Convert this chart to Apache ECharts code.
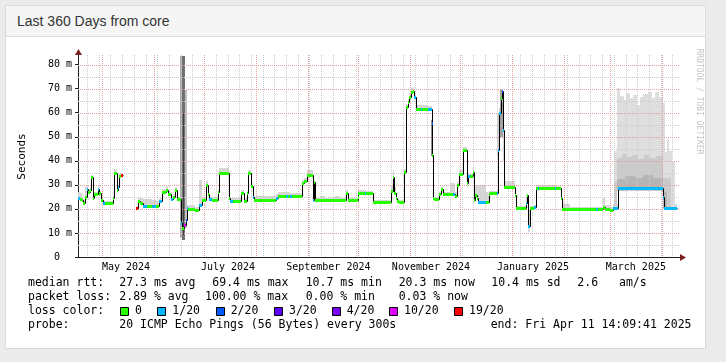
<!DOCTYPE html>
<html><head><meta charset="utf-8">
<script src="https://cdn.jsdelivr.net/npm/echarts@6/dist/echarts.min.js"></script>
<style>
html,body{margin:0;padding:0;background:#ebebeb;width:726px;height:362px;overflow:hidden;}
#panel{position:absolute;left:5px;top:5px;width:699px;height:342px;background:#fff;border:1px solid #dcdcdc;}
#head{position:absolute;left:0;top:0;right:0;height:30px;background:#f5f5f5;border-bottom:1px solid #dcdcdc;}
#title{position:absolute;left:11px;top:7px;font:14px "Liberation Sans",Arial,sans-serif;color:#333;}
#chart{position:absolute;left:0;top:0;width:726px;height:362px;}
</style></head>
<body>
<div id="panel"><div id="head"><div id="title">Last 360 Days from core</div></div></div>
<div id="chart"></div>
<script>
// ---- data (x = days since start of the 360-day window, y = milliseconds) ----
const endDay = 358.3;
const segDays = [0.0,1.0,2.2,3.2,4.2,5.2,6.2,7.2,7.8,8.8,9.8,11.8,12.6,13.8,15.1,16.2,20.7,21.7,23.1,23.7,24.5,25.7,26.7,
 34.7,35.8,37.2,39.1,41.0,44.0,46.5,48.6,50.0,52.6,54.0,55.6,57.0,58.0,59.4,61.6,62.4,63.4,64.4,65.2,66.0,70.0,72.4,74.0,
 76.4,77.6,78.5,80.0,83.6,84.3,90.3,90.9,92.5,97.5,99.5,100.9,101.5,103.5,104.8,105.4,118.2,119.4,124.6,125.4,127.0,127.8,
 134.2,135.4,136.8,140.7,141.3,141.7,144.7,147.7,153.7,156.7,160.1,161.3,167.3,167.6,171.5,172.3,176.2,187.0,188.2,189.0,
 190.0,191.0,192.0,195.2,196.2,197.2,198.1,199.2,200.2,201.1,202.2,205.3,206.0,209.6,211.5,211.9,212.5,213.1,216.1,217.1,
 218.1,222.5,224.5,225.5,226.9,227.9,230.4,232.5,233.4,234.5,236.1,236.8,237.4,238.4,239.4,244.0,245.8,246.4,250.4,251.0,
 251.8,252.8,253.4,254.4,255.0,261.4,262.2,267.8,268.5,269.2,270.4,272.8,273.9,275.0,275.8,285.0,285.8,288.9,289.7,294.0,
 310.0,310.8,314.2,315.2,318.2,320.2,322.8,349.7,350.3];
const segMedian = [24.6,24.2,23.7,22.5,25.0,28.3,27.0,28.0,33.3,24.6,26.0,28.3,26.6,23.7,22.5,22.5,24.6,35.0,28.0,29.0,33.7,34.0,null,
 20.4,23.3,22.5,21.4,21.4,21.4,21.4,23.3,27.0,28.0,26.0,24.0,25.0,28.0,24.0,14.0,12.0,13.3,15.4,20.4,20.0,19.4,21.6,23.7,
 30.0,26.0,24.0,23.7,27.0,35.0,24.6,23.3,23.3,26.6,23.3,26.6,35.0,29.6,25.0,23.5,24.6,25.4,25.4,25.4,25.4,25.4,
 30.8,31.7,34.0,23.5,31.0,23.5,23.5,23.5,23.5,23.5,26.6,23.5,25.0,26.6,26.6,26.6,23.0,27.5,33.3,26.6,
 24.6,23.3,23.0,35.4,62.5,64.6,66.7,68.8,69.2,66.7,61.7,61.7,61.7,61.7,55.8,42.5,24.6,24.2,26.2,28.3,
 26.2,26.2,26.2,25.4,30.0,34.6,44.6,30.8,33.7,33.7,35.4,23.7,25.8,24.5,23.0,23.0,26.2,26.6,26.6,44.6,
 60.0,66.2,69.0,52.9,29.2,25.8,20.4,22.6,25.8,13.0,20.4,20.8,28.8,28.8,28.8,28.8,28.8,24.6,20.0,20.0,
 20.0,20.0,20.8,20.0,19.6,20.4,28.8,25.0,20.4];
// loss bucket index: 0 = 0, 1 = 1/20, 2 = 2/20, 3 = 3/20, 4 = 4/20, 5 = 10/20, 6 = 19/20
const segLoss = [1,0,0,0,0,1,0,0,0,0,0,1,0,0,1,0,0,0,0,1,0,6,0,
 6,0,0,1,0,1,0,1,0,0,0,1,0,0,0,1,0,5,2,1,0,0,1,0,
 0,0,1,0,0,0,0,1,0,0,0,0,0,0,1,0,1,0,1,0,1,0,
 0,0,0,1,0,0,0,0,0,0,0,0,0,0,1,0,0,0,0,0,
 0,0,0,0,0,0,0,0,0,1,0,1,0,1,2,0,0,0,0,0,
 0,0,1,0,0,0,0,0,1,0,0,0,0,0,1,0,0,0,1,1,
 1,0,2,1,0,0,0,1,0,1,0,1,0,1,0,1,0,0,0,0,
 1,0,0,0,0,1,1,1,1];
const smokeLo = [23.6,23.4,23.0,22.0,24.5,27.6,26.4,27.4,32.6,24.0,25.4,27.6,26.0,23.0,22.0,22.0,24.0,34.4,27.4,28.4,33.0,33.4,null,
 20.0,22.6,22.0,21.0,21.0,21.0,21.0,22.8,26.4,27.4,25.4,23.4,24.4,27.4,23.4,13.0,11.0,12.0,14.5,19.8,19.5,19.0,21.0,23.0,
 29.4,25.4,23.4,23.2,26.4,34.4,24.0,22.8,22.8,26.0,22.8,26.0,34.4,29.0,24.4,23.0,24.0,25.0,25.0,25.0,25.0,25.0,
 30.2,31.0,33.4,23.0,23.5,23.0,23.0,23.0,23.0,23.0,26.0,23.0,24.5,26.0,26.0,26.0,22.5,27.0,32.8,26.0,
 24.0,22.8,22.5,34.8,62.0,64.0,66.0,68.2,68.6,66.0,61.2,61.2,61.2,61.2,42.0,41.8,24.0,23.8,25.8,27.8,
 25.8,25.8,25.8,25.0,29.4,34.0,44.0,30.2,33.2,33.2,34.8,23.2,25.2,24.0,22.5,22.5,25.8,26.0,26.0,40.0,
 55.0,60.0,62.0,40.0,28.8,25.2,20.0,22.0,22.0,10.6,20.0,20.2,28.3,28.3,28.3,28.3,28.3,24.0,19.5,19.5,
 19.5,19.5,20.2,19.5,19.0,19.8,27.5,20.0,19.8];
const smokeHi = [27.0,26.5,25.0,24.0,29.3,29.5,28.2,29.0,34.2,25.6,27.0,29.6,27.6,24.8,23.4,23.4,25.6,36.4,29.0,30.0,34.6,35.0,null,
 21.2,24.6,24.6,24.0,24.0,23.8,23.4,24.6,28.4,29.4,27.2,25.4,26.2,29.2,25.0,16.0,14.0,15.0,17.0,21.5,21.5,21.0,32.0,25.0,
 31.5,27.0,25.0,25.0,28.0,37.0,25.6,24.4,24.4,28.0,24.4,27.6,36.0,30.6,26.4,25.5,26.0,27.0,27.0,27.0,26.6,26.6,
 32.0,33.0,36.0,24.6,31.5,24.6,25.5,24.4,25.5,24.4,28.0,24.4,26.0,28.0,28.0,27.6,23.8,30.0,36.0,29.0,
 26.0,24.2,23.8,36.4,63.5,65.6,68.0,70.4,70.6,68.0,63.4,63.4,63.4,62.6,57.0,43.5,25.5,25.0,27.0,29.0,
 27.2,30.8,30.8,27.0,31.0,36.0,45.6,31.6,34.6,34.6,36.2,26.0,30.0,30.0,30.0,27.0,27.4,27.6,28.0,55.0,
 62.0,68.0,70.0,55.0,31.5,27.0,21.4,26.0,26.4,20.0,21.4,21.6,30.0,30.0,30.0,29.6,29.6,25.4,22.0,21.0,
 21.0,21.0,24.6,21.6,21.0,22.0,30.0,30.0,22.0];
// extra smoke layers (darker percentiles) : start day, end day, low ms, high ms, grey level
const layerStart = [61.0,62.4,62.8,64.0,211.3,250.8,252.4,
 320.8,322.4,324.0,326.5,328.0,330.0,332.0,334.0,336.0,338.0,341.0,343.0,345.0,347.2,
 320.8,322.4,325.5,328.5,331.5,335.0,338.5,342.0,345.5,
 322.4,327.0,333.0,338.0,344.0,
 349.6,350.9,352.4,353.2,355.0,349.6,349.6];
const layerEnd = [62.4,64.0,63.6,65.4,212.2,252.0,254.2,
 322.4,324.0,326.5,328.0,330.0,332.0,334.0,336.0,338.0,341.0,343.0,345.0,347.2,349.6,
 322.4,325.5,328.5,331.5,335.0,338.5,342.0,345.5,349.6,
 327.0,333.0,338.0,344.0,349.6,
 350.9,352.4,353.2,355.0,356.8,354.5,352.0];
const layerLo = [8.0,7.0,9.0,12.0,42.0,42.0,50.0,
 19.8,27.5,27.5,27.5,27.5,27.5,27.5,27.5,27.5,27.5,27.5,27.5,27.5,27.5,
 20.5,27.6,27.6,27.6,27.6,27.6,27.6,27.6,27.6,
 27.8,27.8,27.8,27.8,27.8,
 20.0,20.0,20.0,20.0,20.0,20.0,20.0];
const layerHi = [83.5,83.5,60.0,69.5,57.0,60.0,69.5,
 43.9,70.3,67.0,65.4,68.2,66.0,67.5,63.3,66.5,67.8,68.5,66.0,68.8,66.5,
 31.0,41.0,42.8,41.5,42.5,40.8,42.6,41.2,42.0,
 32.5,33.6,32.8,34.0,33.0,
 64.0,43.5,49.0,44.0,39.5,33.0,27.0];
const layerGrey = [168,112,64,192,144,207,160,
 222,222,222,222,222,222,222,222,222,222,222,222,222,222,
 203,203,203,203,203,203,203,203,203,
 181,181,181,181,181,
 222,222,222,222,222,203,181];

const lossColors = ['#26ff00','#00b8ff','#0059ff','#5e00ff','#7e00ff','#dd00ff','#ff0000'];
const lossLabels = ['0','1/20','2/20','3/20','4/20','10/20','19/20'];

// calendar grid: month starts (days since Apr 16 2024 14:09:41)
const monthStartDays = [14.41,45.41,75.41,106.41,137.41,167.41,198.41,228.41,259.41,290.41,318.41,349.41];
const firstMondayDay = 5.41;
const xLabelDays = [28.7,89.7,149.7,211.1,272.1,333.6];
const xLabelText = ['May 2024','July 2024','September 2024','November 2024','January 2025','March 2025'];
const yLabelValues = [0,10,20,30,40,50,60,70,80];
const yMinorValues = [5,15,25,35,45,55,65,75];

const legendRows = [
  [['median rtt:',28],['27.3 ms avg',119.3],['69.4 ms max',212.3],['10.7 ms min',305.7],['20.3 ms now',398.7],['10.4 ms sd',491.3],['2.6',577.3],['am/s',619]],
  [['packet loss:',28],['2.89 % avg',119.3],['100.00 % max',205],['0.00 % min',305.7],['0.03 % now',398.7]],
  [['loss color:',28]],
  [['probe:',28],['20 ICMP Echo Pings (56 Bytes) every 300s',119.3],['end: Fri Apr 11 14:09:41 2025',490.7]]
];

// ---- build series data ----
const smokeData = [], medData = [], stepData = [];
for (let i = 0; i < segDays.length; i++) {
  const next = i + 1 < segDays.length ? segDays[i + 1] : endDay;
  if (segMedian[i] == null) continue;
  const nv = (i + 1 < segDays.length && segMedian[i + 1] != null) ? segMedian[i + 1] : segMedian[i];
  smokeData.push([segDays[i], next, smokeLo[i], smokeHi[i]]);
  medData.push([segDays[i], next, segMedian[i], segLoss[i]]);
  stepData.push([segDays[i], next, segMedian[i], nv]);
}
const layerData = layerStart.map((s, i) => [s, layerEnd[i], layerLo[i], layerHi[i], layerGrey[i]]);

const weekDays = [];
for (let d = firstMondayDay; d < 360; d += 7) weekDays.push(+d.toFixed(2));

const R = Math.round;
function rectItem(api, x0, x1, lo, hi, fill) {
  const a = api.coord([x0, hi]), b = api.coord([x1, lo]);
  const xa = R(a[0]), xb = Math.max(R(b[0]), xa + 1), ya = R(a[1]), yb = Math.max(R(b[1]), ya + 1);
  return {type: 'rect', shape: {x: xa, y: ya, width: xb - xa, height: yb - ya}, style: {fill: fill}};
}

const MONO = '"DejaVu Sans Mono", monospace';
const graphics = [];
legendRows.forEach((row, r) => {
  row.forEach(([t, x]) => graphics.push({type: 'text', x: x, y: 283.3 + r * 14, style: {text: t, font: '11.5px ' + MONO, fill: '#000', textVerticalAlign: 'middle', verticalAlign: 'middle'}}));
});
const boxX = [120, 157.3, 215.7, 274, 331.7, 389, 454];
lossLabels.forEach((lab, i) => {
  graphics.push({type: 'rect', shape: {x: R(boxX[i]) + 0.5, y: 307.5, width: 8, height: 8}, style: {fill: lossColors[i], stroke: '#000', lineWidth: 1}});
  graphics.push({type: 'text', x: boxX[i] + 15, y: 311.3, style: {text: lab, font: '11.5px ' + MONO, fill: '#000', textVerticalAlign: 'middle', verticalAlign: 'middle'}});
});
graphics.push({type: 'text', x: 22.5, y: 156.5, rotation: Math.PI / 2, style: {text: 'Seconds', font: '11px ' + MONO, fill: '#000', textAlign: 'center', align: 'center', textVerticalAlign: 'middle', verticalAlign: 'middle'}});
graphics.push({type: 'text', x: 699.5, y: 101.5, rotation: -Math.PI / 2, style: {text: 'RRDTOOL / TOBI OETIKER', font: '8px ' + MONO, fill: '#c4c4c4', textAlign: 'center', align: 'center', textVerticalAlign: 'middle', verticalAlign: 'middle'}});
graphics.push({type: 'polygon', shape: {points: [[680, 254], [680, 261], [686, 257.5]]}, style: {fill: '#801f1f'}});
graphics.push({type: 'polygon', shape: {points: [[75, 55], [82, 55], [78.5, 49]]}, style: {fill: '#801f1f'}});

function vGrid(days, color) {
  return {type: 'custom', z: 3, silent: true, data: days.map(d => [d, 0]), encode: {x: 0, y: 1},
    renderItem: (p, api) => {
      const cs = p.coordSys; const x = R(api.coord([api.value(0), 0])[0]) + 0.5;
      return {type: 'line', shape: {x1: x, y1: cs.y, x2: x, y2: cs.y + cs.height}, style: {stroke: color, lineWidth: 1, lineDash: [1, 1]}};
    }};
}
function hGrid(vals, color) {
  return {type: 'custom', z: 3, silent: true, data: vals.map(v => [0, v]), encode: {x: 0, y: 1},
    renderItem: (p, api) => {
      const cs = p.coordSys; const y = R(api.coord([0, api.value(1)])[1]) + 0.5;
      return {type: 'line', shape: {x1: cs.x, y1: y, x2: cs.x + cs.width, y2: y}, style: {stroke: color, lineWidth: 1, lineDash: [1, 1]}};
    }};
}

const chart = echarts.init(document.getElementById('chart'), null, {renderer: 'canvas'});
chart.setOption({
  animation: false,
  backgroundColor: 'transparent',
  grid: {left: 78, right: 46, top: 55, bottom: 105},
  xAxis: {type: 'value', min: 0, max: 360,
    axisLine: {show: true, lineStyle: {color: '#1f1f1f', width: 1}},
    splitLine: {show: false}, minorSplitLine: {show: false},
    axisTick: {show: false},
    axisLabel: {customValues: xLabelDays, margin: 5, fontFamily: MONO, fontSize: 10, color: '#000',
      formatter: v => { const i = xLabelDays.findIndex(d => Math.abs(d - v) < 0.01); return i >= 0 ? xLabelText[i] : ''; }}},
  yAxis: {type: 'value', min: 0, max: 84,
    axisLine: {show: true, lineStyle: {color: '#1f1f1f', width: 1}},
    splitLine: {show: false},
    axisTick: {show: true, customValues: yLabelValues, length: 3, lineStyle: {color: '#1f1f1f'}},
    axisLabel: {customValues: yLabelValues, margin: 6, fontFamily: MONO, fontSize: 10, color: '#000',
      formatter: v => v === 0 ? '0  ' : v + ' m'}},
  graphic: graphics,
  series: [
    {type: 'custom', z: 1, silent: true, data: smokeData, encode: {x: [0, 1], y: [2, 3]},
      renderItem: (p, api) => rectItem(api, api.value(0), api.value(1), api.value(2), api.value(3), '#d6d6d6')},
    {type: 'custom', z: 2, silent: true, data: layerData, encode: {x: [0, 1], y: [2, 3]},
      renderItem: (p, api) => { const g = api.value(4); return rectItem(api, api.value(0), api.value(1), api.value(2), api.value(3), 'rgb(' + g + ',' + g + ',' + g + ')'); }},
    vGrid(weekDays, '#cccccc'),
    hGrid(yMinorValues, '#cccccc'),
    vGrid(monthStartDays, '#eb9a9a'),
    hGrid(yLabelValues.slice(1), '#eb9a9a'),
    {type: 'custom', z: 4, silent: true, data: stepData, encode: {x: [0, 1], y: [2, 3]},
      renderItem: (p, api) => {
        const a = api.coord([api.value(0), api.value(2)]), b = api.coord([api.value(1), api.value(2)]), c = api.coord([api.value(1), api.value(3)]);
        const xa = R(a[0]) + 0.5, xb = R(b[0]) + 0.5, ya = R(a[1]) + 0.5, yc = R(c[1]) + 0.5;
        return {type: 'polyline', shape: {points: [[xa, ya], [xb, ya], [xb, yc]]}, style: {stroke: '#000', lineWidth: 1, fill: null}};
      }},
    {type: 'custom', z: 5, silent: true, data: medData, encode: {x: [0, 1], y: 2},
      renderItem: (p, api) => {
        const a = api.coord([api.value(0), api.value(2)]), b = api.coord([api.value(1), api.value(2)]);
        const xa = R(a[0]), xb = Math.max(R(b[0]), xa + 1), y = R(a[1]);
        return {type: 'rect', shape: {x: xa, y: y - 1, width: xb - xa, height: 3}, style: {fill: lossColors[api.value(3)]}};
      }}
  ]
});
</script>
</body></html>
